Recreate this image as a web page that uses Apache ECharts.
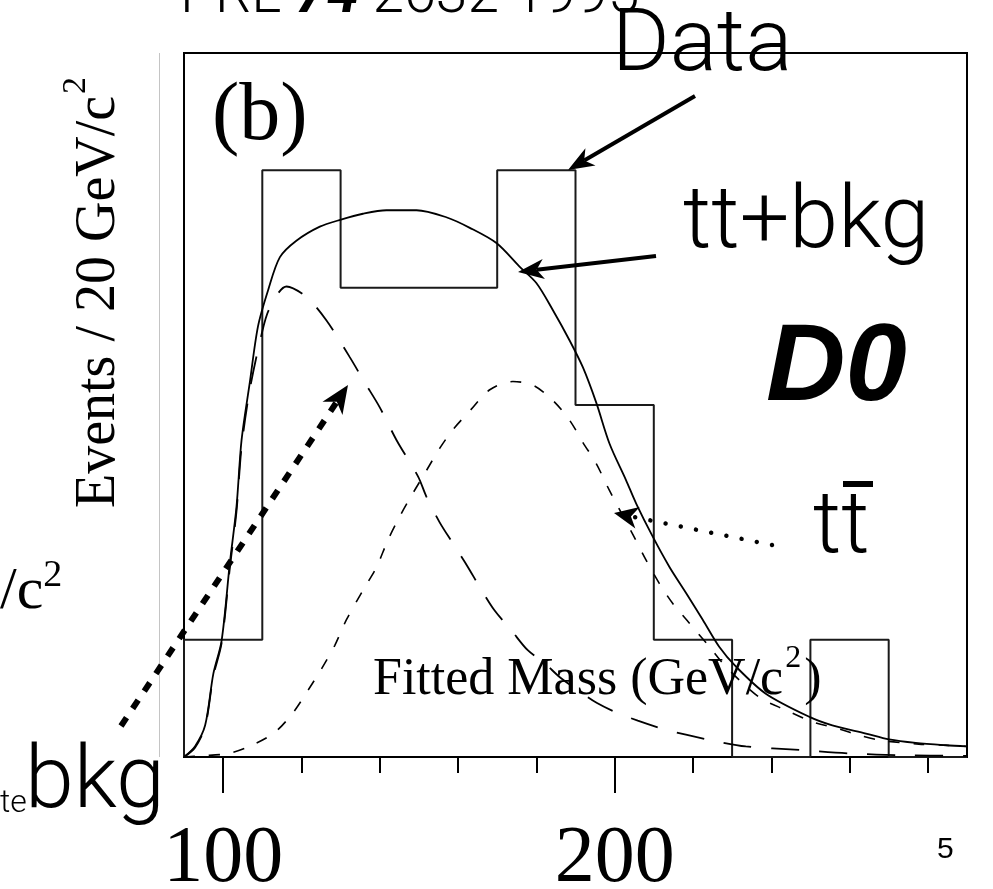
<!DOCTYPE html>
<html>
<head>
<meta charset="utf-8">
<script src="https://cdn.jsdelivr.net/npm/echarts@6/dist/echarts.min.js"></script>
<style>
  html, body { margin: 0; padding: 0; background: #fff; }
  #chart { width: 993px; height: 889px; }
</style>
</head>
<body>
<div id="chart"></div>
<script>
// Observed events per 20 GeV/c^2 bin (lower bin edges)
const binStarts = [90, 110, 130, 150, 170, 190, 210, 230, 250, 270];
const binEnd = 290;
const dataCounts = [1, 5, 4, 4, 5, 3, 1, 0, 1, 0];

// Fitted top + background (solid)
const totalMass = [90, 92.8, 95.4, 97.5, 99.6, 101.7, 103.4, 104.7, 106.8, 108.9, 111.5, 114.5, 118.7, 124.7, 130.1, 135.7, 141.7, 149.4, 157.0, 163.0, 169.8, 175.7, 180.0, 184.2, 188.5, 191.9, 195.3, 198.7, 202.9, 205.5, 209.7, 214.0, 218.2, 222.5, 226.7, 231.0, 238.6, 249.9, 255.6, 264.2, 270.1, 276.9, 284.6, 290];
const totalEvents = [0, 0.09, 0.27, 0.71, 0.99, 1.65, 2.13, 2.70, 3.19, 3.67, 3.98, 4.26, 4.40, 4.52, 4.58, 4.63, 4.66, 4.66, 4.60, 4.51, 4.38, 4.18, 4.04, 3.81, 3.55, 3.32, 3.02, 2.67, 2.36, 2.16, 1.88, 1.62, 1.40, 1.17, 0.94, 0.77, 0.54, 0.34, 0.27, 0.20, 0.15, 0.12, 0.10, 0.09];

// Background only (long dashes)
const bkgMass = [90, 92.8, 95.4, 97.5, 99.6, 101.7, 103.4, 104.7, 106.8, 109.8, 111.8, 116.2, 121.3, 126.4, 132.3, 136.2, 140.0, 144.3, 149.8, 151.9, 155.3, 158.7, 162.5, 165.5, 169.3, 173.6, 177.8, 182.1, 186, 191, 195.5, 200.4, 205.9, 212.3, 218.2, 225.0, 233.5, 247.1, 260.3, 273.4, 290];
const bkgEvents = [0, 0.08, 0.26, 0.69, 0.97, 1.61, 2.09, 2.64, 3.13, 3.60, 3.82, 4.01, 3.92, 3.72, 3.41, 3.19, 2.98, 2.70, 2.39, 2.22, 2.00, 1.82, 1.62, 1.45, 1.25, 1.08, 0.91, 0.80, 0.68, 0.56, 0.46, 0.38, 0.31, 0.24, 0.19, 0.14, 0.09, 0.06, 0.03, 0.015, 0.01];

// Top pair signal only (short dashes)
const ttMass = [90, 94.5, 101.3, 107.3, 113.2, 117.9, 121.7, 125.1, 128.5, 131.5, 135.7, 139.2, 142.1, 145.1, 148.5, 151.9, 155.3, 158.7, 163.0, 168.1, 174.0, 179.1, 184.2, 188.5, 191.9, 195.3, 198.7, 204.6, 208.0, 211.4, 214.8, 219.1, 224.2, 228.4, 236.9, 243.7, 250.5, 257.3, 262.4, 268.4, 277.7, 284.6, 290];
const ttEvents = [0, 0.01, 0.03, 0.10, 0.21, 0.38, 0.57, 0.75, 0.95, 1.17, 1.42, 1.62, 1.85, 2.05, 2.25, 2.44, 2.63, 2.79, 2.95, 3.13, 3.20, 3.17, 3.04, 2.87, 2.68, 2.50, 2.27, 1.90, 1.68, 1.48, 1.31, 1.14, 0.94, 0.77, 0.51, 0.40, 0.30, 0.24, 0.185, 0.14, 0.11, 0.10, 0.09];

// Axis ticks and labels
const tickValues = [100, 120, 140, 160, 180, 200, 220, 240, 260, 280];
const labelValues = [100, 200];

const zip = (xs, ys) => xs.map((x, i) => [x, ys[i]]);
const histData = [[binStarts[0], 0]].concat(zip(binStarts, dataCounts), [[binEnd, dataCounts[dataCounts.length - 1]]]);

// --- text helpers -------------------------------------------------------
const mctx = document.createElement('canvas').getContext('2d');
function fontStr(p) {
  return (p.style || 'normal') + ' ' + (p.weight || 'normal') + ' ' + p.size + 'px ' + p.family;
}
function measure(p) { mctx.font = fontStr(p); return mctx.measureText(p.t).width; }
// Lays text pieces left to right on a shared baseline
function textRun(pieces, x0, baseline) {
  let x = x0;
  return pieces.map(p => {
    const el = {
      type: 'text', z: 100,
      x: x + (p.dx || 0),
      y: baseline - (p.rise || 0) - 0.34 * p.size,
      style: {
        text: p.t, fontSize: p.size, fontFamily: p.family,
        fontWeight: p.weight || 'normal', fontStyle: p.style || 'normal',
        fill: '#000', textAlign: 'left', textVerticalAlign: 'middle',
        align: 'left', verticalAlign: 'middle'
      }
    };
    x += measure(p) + (p.dx || 0);
    return el;
  });
}
function arrow(x1, y1, x2, y2, o) {
  const dx = x2 - x1, dy = y2 - y1, L = Math.hypot(dx, dy);
  const ux = dx / L, uy = dy / L, nx = -uy, ny = ux;
  const bx = x2 - ux * o.head, by = y2 - uy * o.head;
  const k = 0.72;
  return [
    { type: 'line', z: 100,
      shape: { x1: x1, y1: y1, x2: x2 - ux * o.head * k, y2: y2 - uy * o.head * k },
      style: { stroke: '#000', lineWidth: o.width, lineDash: o.dash || null, lineCap: o.cap || 'butt' } },
    { type: 'polygon', z: 100,
      shape: { points: [[x2, y2], [bx + nx * o.half, by + ny * o.half],
                        [x2 - ux * o.head * k, y2 - uy * o.head * k], [bx - nx * o.half, by - ny * o.half]] },
      style: { fill: '#000' } }
  ];
}

const SANS = 'Roboto, "Liberation Sans", sans-serif';
const SERIF = '"Liberation Serif", "DejaVu Serif", serif';

const graphics = [].concat(
  [{ type: 'line', z: 1, shape: { x1: 159.5, y1: 53, x2: 159.5, y2: 757 }, style: { stroke: '#c4c4c4', lineWidth: 1 } }],
  textRun([{ t: 'PRL ', size: 57, family: SANS, weight: 300 },
           { t: '74', size: 57, family: SANS, weight: 'bold', style: 'italic' },
           { t: ' 2632 1995', size: 57, family: SANS, weight: 300 }], 180, 17),
  textRun([{ t: 'Data', size: 88, family: SANS, weight: 300 }], 612, 78),
  textRun([{ t: 'tt+bkg', size: 88, family: SANS, weight: 300 }], 683, 255),
  textRun([{ t: 'D0', size: 110, family: '"Liberation Sans", Arial, sans-serif', weight: 'bold', style: 'italic' }], 766, 407),
  textRun([{ t: 'tt', size: 88, family: SANS, weight: 300 }], 813, 560),
  [{ type: 'rect', z: 100, shape: { x: 843, y: 481, width: 30, height: 6 }, style: { fill: '#000' } }],
  textRun([{ t: 'te', size: 32, family: SANS, weight: 300 }], 0, 815),
  textRun([{ t: 'bkg', size: 88, family: SANS, weight: 300 }], 25, 815),
  textRun([{ t: '/c', size: 60, family: SERIF }, { t: '2', size: 38, family: SERIF, rise: 24 }], 0, 613),
  textRun([{ t: '(b)', size: 82, family: SERIF }], 212, 145),
  textRun([{ t: 'Fitted Mass (GeV/c', size: 52, family: SERIF },
           { t: '2', size: 32, family: SERIF, rise: 29, dx: 2 },
           { t: ')', size: 52, family: SERIF, dx: 3 }], 373, 698),
  textRun([{ t: '5', size: 30, family: '"Liberation Sans", sans-serif' }], 937, 860),
  [{ type: 'group', x: 118, y: 508, rotation: Math.PI / 2, z: 100,
     children: textRun([{ t: 'Events / 20 GeV/c', size: 56, family: SERIF },
                        { t: '2', size: 34, family: SERIF, rise: 30, dx: 2 }], 0, 0) }],
  arrow(695, 96, 568, 170, { width: 4, head: 26, half: 10 }),
  arrow(656, 256, 518, 272, { width: 4, head: 26, half: 10 }),
  arrow(772, 545, 614, 513, { width: 4.5, head: 24, half: 11, dash: [0.01, 15.5], cap: 'round' }),
  arrow(121, 726, 348, 385, { width: 6, head: 28, half: 12, dash: [10, 11] })
);

const chart = echarts.init(document.getElementById('chart'), null, { renderer: 'canvas' });
chart.setOption({
  animation: false,
  backgroundColor: '#fff',
  grid: { left: 184, right: 26, top: 53, bottom: 132, outerBoundsMode: 'none', containLabel: false,
          show: true, borderColor: '#000', borderWidth: 2, backgroundColor: 'transparent' },
  xAxis: [
    { type: 'value', min: 90, max: binEnd, position: 'bottom',
      axisLine: { show: false }, splitLine: { show: false },
      axisTick: { show: true, customValues: tickValues, length: 16, lineStyle: { color: '#000', width: 2 } },
      axisLabel: { show: false } },
    { type: 'value', min: 90, max: binEnd, position: 'bottom',
      axisLine: { show: false }, splitLine: { show: false },
      axisTick: { show: true, customValues: labelValues, length: 36, lineStyle: { color: '#000', width: 2 } },
      axisLabel: { show: true, customValues: labelValues, margin: 63, fontFamily: SERIF, fontSize: 80, color: '#000' } }
  ],
  yAxis: { type: 'value', min: 0, max: 6, show: false, splitLine: { show: false } },
  series: [
    { name: 'Data', type: 'line', step: 'end', data: histData, symbol: 'none',
      lineStyle: { color: '#1a1a1a', width: 2 }, z: 3 },
    { name: 'tt+bkg', type: 'line', data: zip(totalMass, totalEvents), symbol: 'none', smooth: 0.3,
      lineStyle: { color: '#000', width: 1.8 }, z: 4 },
    { name: 'bkg', type: 'line', data: zip(bkgMass, bkgEvents), symbol: 'none', smooth: 0.3,
      lineStyle: { color: '#000', width: 1.8, type: [28, 20] }, z: 4 },
    { name: 'tt\u0304', type: 'line', data: zip(ttMass, ttEvents), symbol: 'none', smooth: 0.3,
      lineStyle: { color: '#000', width: 1.6, type: [11, 14] }, z: 4 }
  ],
  graphic: graphics
});
</script>
</body>
</html>
